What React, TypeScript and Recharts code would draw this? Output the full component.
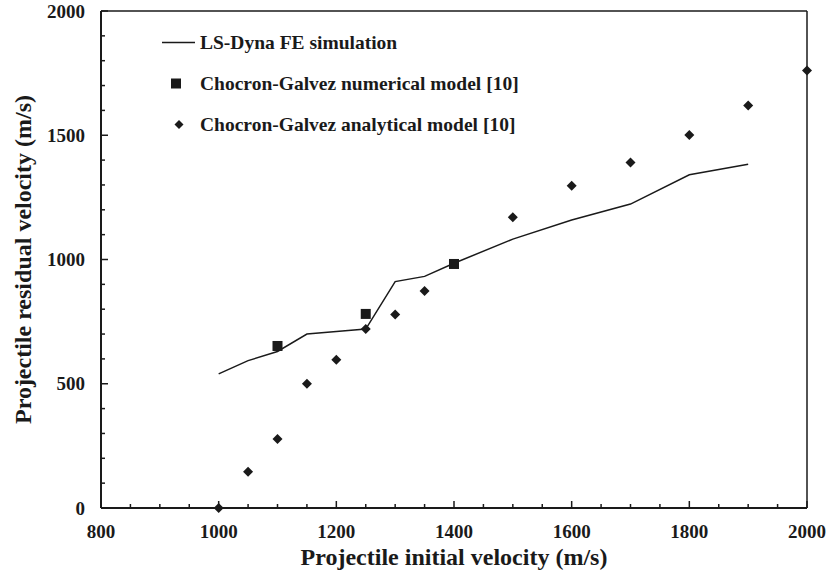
import React from 'react';
import { ComposedChart, Line, Scatter, XAxis, YAxis, Legend, Label, ReferenceLine } from 'recharts';

// LS-Dyna FE simulation (initial vs residual velocity, m/s)
const simInitial = [1000, 1050, 1100, 1150, 1200, 1250, 1300, 1350, 1400, 1500, 1600, 1700, 1800, 1900];
const simResidual = [540, 593, 630, 700, 710, 720, 911, 932, 985, 1082, 1159, 1223, 1341, 1383];

// Chocron-Galvez numerical model [10]
const numInitial = [1100, 1250, 1400];
const numResidual = [652, 781, 982];

// Chocron-Galvez analytical model [10]
const anaInitial = [1000, 1050, 1100, 1150, 1200, 1250, 1300, 1350, 1500, 1600, 1700, 1800, 1900, 2000];
const anaResidual = [0, 146, 278, 500, 597, 720, 779, 873, 1170, 1297, 1390, 1501, 1620, 1761];

// axis ticks (major + minor)
const xTicks = [800, 850, 900, 950, 1000, 1050, 1100, 1150, 1200, 1250, 1300, 1350, 1400, 1450, 1500, 1550, 1600, 1650, 1700, 1750, 1800, 1850, 1900, 1950, 2000];
const yTicks = [0, 100, 200, 300, 400, 500, 600, 700, 800, 900, 1000, 1100, 1200, 1300, 1400, 1500, 1600, 1700, 1800, 1900, 2000];

const toPoints = (xs: number[], ys: number[]) => xs.map((x, i) => ({ x, y: ys[i] }));
const simData = toPoints(simInitial, simResidual);
const numData = toPoints(numInitial, numResidual);
const anaData = toPoints(anaInitial, anaResidual);

const FONT = '"Liberation Serif", "Times New Roman", serif';
const INK = '#1a1a1a';

const XTick = (props: any) => {
  const { x, y, payload } = props;
  const major = payload.value % 200 === 0;
  return (
    <g>
      <line x1={x} y1={y} x2={x} y2={y - (major ? 7 : 4)} stroke={INK} strokeWidth={1.5} />
      {major && (
        <text x={x} y={y + 30} textAnchor="middle" fontFamily={FONT} fontWeight="bold" fontSize={19} fill={INK}>
          {payload.value}
        </text>
      )}
    </g>
  );
};

const YTick = (props: any) => {
  const { x, y, payload } = props;
  const major = payload.value % 500 === 0;
  return (
    <g>
      <line x1={x} y1={y} x2={x + (major ? 7 : 4)} y2={y} stroke={INK} strokeWidth={1.5} />
      {major && (
        <text x={x - 16} y={y} dy="0.35em" textAnchor="end" fontFamily={FONT} fontWeight="bold" fontSize={19} fill={INK}>
          {payload.value}
        </text>
      )}
    </g>
  );
};

const SquareShape = (p: any) => <rect x={p.cx - 5} y={p.cy - 5} width={10} height={10} fill={INK} />;
const DiamondShape = (p: any) => (
  <polygon
    points={`${p.cx},${p.cy - 5} ${p.cx + 5},${p.cy} ${p.cx},${p.cy + 5} ${p.cx - 5},${p.cy}`}
    fill={INK}
  />
);

const legendRows = [
  { label: 'LS-Dyna FE simulation', kind: 'line' },
  { label: 'Chocron-Galvez numerical model [10]', kind: 'square' },
  { label: 'Chocron-Galvez analytical model [10]', kind: 'diamond' },
];

const renderLegend = () => (
  <div style={{ fontFamily: FONT, fontWeight: 'bold', fontSize: 19.5, color: INK }}>
    {legendRows.map((r) => (
      <div key={r.label} style={{ display: 'flex', alignItems: 'center', height: 41, whiteSpace: 'nowrap' }}>
        <svg width={40} height={41} style={{ flex: 'none' }}>
          {r.kind === 'line' && <line x1={2} y1={20.5} x2={35} y2={20.5} stroke={INK} strokeWidth={1.5} />}
          {r.kind === 'square' && <rect x={11} y={15.5} width={10} height={10} fill={INK} />}
          {r.kind === 'diamond' && <polygon points="19,16 23.5,20.5 19,25 14.5,20.5" fill={INK} />}
        </svg>
        <span>{r.label}</span>
      </div>
    ))}
  </div>
);

export default function App() {
  return (
    <div style={{ position: 'absolute', left: 0, top: 0, width: 827, height: 575, background: '#fff' }}>
      <ComposedChart width={827} height={575} margin={{ top: 11, right: 20, left: 0, bottom: 0 }}>
        <XAxis
          dataKey="x"
          type="number"
          domain={[800, 2000]}
          ticks={xTicks}
          interval={0}
          height={67}
          tickSize={0}
          tickMargin={0}
          tickLine={false}
          tick={<XTick />}
          axisLine={{ stroke: INK, strokeWidth: 2 }}
        >
          <Label
            value="Projectile initial velocity (m/s)"
            position="insideBottom"
            offset={10}
            style={{ fontFamily: FONT, fontWeight: 'bold', fontSize: 24, fill: INK }}
          />
        </XAxis>
        <YAxis
          dataKey="y"
          type="number"
          domain={[0, 2000]}
          ticks={yTicks}
          interval={0}
          width={101}
          tickSize={0}
          tickMargin={0}
          tickLine={false}
          tick={<YTick />}
          axisLine={{ stroke: INK, strokeWidth: 2 }}
        >
          <Label
            value="Projectile residual velocity (m/s)"
            angle={-90}
            position="insideLeft"
            offset={22}
            style={{ fontFamily: FONT, fontWeight: 'bold', fontSize: 24, fill: INK, textAnchor: 'middle' }}
          />
        </YAxis>
        <ReferenceLine y={2000} stroke={INK} strokeWidth={1.5} />
        <ReferenceLine x={2000} stroke={INK} strokeWidth={1.5} />
        <Legend
          layout="vertical"
          align="center"
          verticalAlign="middle"
          content={renderLegend}
          wrapperStyle={{ top: 22, left: 160, width: 420 }}
        />
        <Line
          data={simData}
          dataKey="y"
          type="linear"
          stroke={INK}
          strokeWidth={1.5}
          dot={false}
          activeDot={false}
          isAnimationActive={false}
        />
        <Scatter data={anaData} dataKey="y" shape={<DiamondShape />} isAnimationActive={false} />
        <Scatter data={numData} dataKey="y" shape={<SquareShape />} isAnimationActive={false} />
      </ComposedChart>
    </div>
  );
}
